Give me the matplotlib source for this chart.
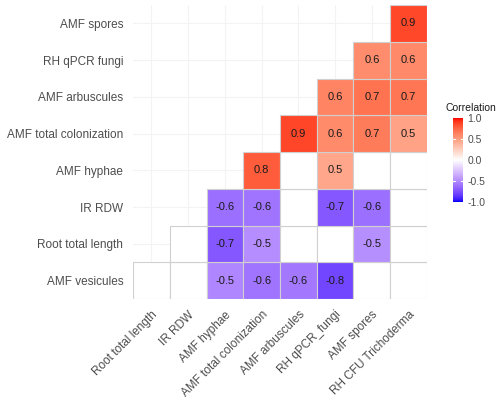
import numpy as np
import matplotlib
matplotlib.use("Agg")
import matplotlib.pyplot as plt
from matplotlib.colors import LinearSegmentedColormap
from matplotlib.patches import Rectangle

plt.rcParams['font.family'] = ['Liberation Sans', 'DejaVu Sans']

# variables (rows bottom -> top, columns left -> right)
row_labels = ["AMF vesicules", "Root total length", "IR RDW", "AMF hyphae",
              "AMF total colonization", "AMF arbuscules", "RH qPCR fungi", "AMF spores"]
col_labels = ["Root total length", "IR RDW", "AMF hyphae", "AMF total colonization",
              "AMF arbuscules", "RH qPCR_fungi", "AMF spores", "RH CFU Trichoderma"]

# correlations; None = not significant (blank cell), row k starts at column k
corr_vesicules = [None, None, -0.52, -0.60, -0.58, -0.79, None, None]
corr_rootlen = [None, -0.72, -0.49, None, None, -0.48, None]
corr_irrdw = [-0.62, -0.60, None, -0.72, -0.62, None]
corr_hyphae = [0.79, None, 0.46, None, None]
corr_totcol = [0.87, 0.59, 0.66, 0.48]
corr_arbus = [0.62, 0.70, 0.68]
corr_qpcr = [0.58, 0.60]
corr_spores = [0.86]
rows = [corr_vesicules, corr_rootlen, corr_irrdw, corr_hyphae,
        corr_totcol, corr_arbus, corr_qpcr, corr_spores]


# ggplot-like gradient2 (blue - white - red, interpolated in Lab)
def srgb_to_lab(c):
    c = np.asarray(c, float)
    lin = np.where(c <= 0.04045, c / 12.92, ((c + 0.055) / 1.055) ** 2.4)
    M = np.array([[0.4124, 0.3576, 0.1805], [0.2126, 0.7152, 0.0722], [0.0193, 0.1192, 0.9505]])
    xyz = M @ lin / np.array([0.95047, 1.0, 1.08883])
    f = np.where(xyz > 0.008856, np.cbrt(xyz), 7.787 * xyz + 16 / 116)
    return np.array([116 * f[1] - 16, 500 * (f[0] - f[1]), 200 * (f[1] - f[2])])


def lab_to_srgb(lab):
    L, a, b = lab
    fy = (L + 16) / 116
    fx = fy + a / 500
    fz = fy - b / 200
    f = np.array([fx, fy, fz])
    xyz = np.where(f ** 3 > 0.008856, f ** 3, (f - 16 / 116) / 7.787) * np.array([0.95047, 1.0, 1.08883])
    Minv = np.array([[3.2406, -1.5372, -0.4986], [-0.9689, 1.8758, 0.0415], [0.0557, -0.2040, 1.0570]])
    lin = np.clip(Minv @ xyz, 0, 1)
    return np.where(lin <= 0.0031308, 12.92 * lin, 1.055 * lin ** (1 / 2.4) - 0.055).clip(0, 1)


blue, white, red = srgb_to_lab([0, 0, 1]), srgb_to_lab([1, 1, 1]), srgb_to_lab([1, 0, 0])
cols = []
for t in np.linspace(-1, 1, 101):
    if t < 0:
        lab = white + (blue - white) * (-t)
    else:
        lab = white + (red - white) * t
    cols.append(lab_to_srgb(lab))
cmap = LinearSegmentedColormap.from_list("gg2", cols)

fig = plt.figure(figsize=(5.0, 4.03), dpi=100)
ax = fig.add_axes([0.266, 0.258, 0.588, 0.7295])
ax.set_xlim(-0.5, 7.5)
ax.set_ylim(-0.5, 7.5)
ax.set_aspect('equal')

for k in range(8):
    ax.axvline(k, color='#f3f3f3', lw=0.8, zorder=0)
    ax.axhline(k, color='#f3f3f3', lw=0.8, zorder=0)

for r, vals in enumerate(rows):
    for j, v in enumerate(vals):
        c = r + j
        face = 'white' if v is None else cmap((v + 1) / 2)
        ax.add_patch(Rectangle((c - 0.5, r - 0.5), 1, 1, facecolor=face,
                               edgecolor='#d0d0d0', lw=0.8, zorder=2))
        if v is not None:
            ax.text(c, r, f"{v:.1f}", ha='center', va='center', fontsize=8,
                    color='#1a1a1a', zorder=3)

for s in ax.spines.values():
    s.set_visible(False)
ax.set_xticks(range(8))
ax.set_yticks(range(8))
ax.set_xticklabels(col_labels, rotation=45, ha='right', va='top',
                   rotation_mode='anchor', fontsize=8.5, color='#4d4d4d')
ax.set_yticklabels(row_labels, fontsize=8.5, color='#4d4d4d')
ax.tick_params(length=0, pad=7)

# colour bar legend
cax = fig.add_axes([453 / 500, (403 - 202) / 403, 10 / 500, 84 / 403])
grad = np.linspace(-1, 1, 200).reshape(-1, 1)
cax.imshow(grad, cmap=cmap, aspect='auto', origin='lower', extent=[0, 1, -1, 1])
for v in [-0.5, 0, 0.5]:
    cax.plot([0, 0.2], [v, v], color='white', lw=0.8)
    cax.plot([0.8, 1], [v, v], color='white', lw=0.8)
cax.set_xlim(0, 1)
cax.set_ylim(-1, 1)
cax.set_xticks([])
cax.yaxis.tick_right()
cax.set_yticks([-1, -0.5, 0, 0.5, 1])
cax.set_yticklabels(["-1.0", "-0.5", "0.0", "0.5", "1.0"], fontsize=7.5, color='#4d4d4d')
cax.tick_params(length=0, pad=3)
for s in cax.spines.values():
    s.set_visible(False)
fig.text(446 / 500, 1 - 108 / 403, "Correlation", fontsize=7.5, color='#1a1a1a',
         ha='left', va='center')

fig.savefig("out.png", dpi=100)
